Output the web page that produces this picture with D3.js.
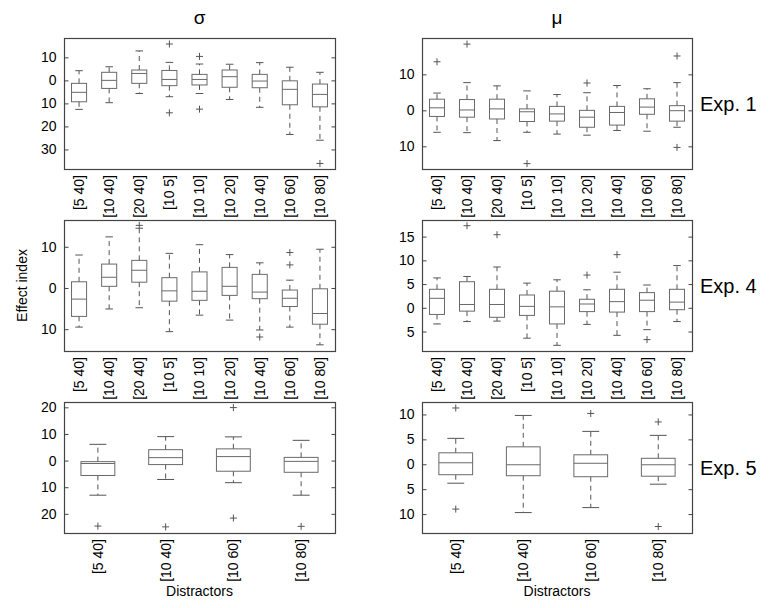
<!DOCTYPE html>
<html>
<head>
<meta charset="utf-8">
<script src="https://cdn.jsdelivr.net/npm/d3@7/dist/d3.min.js"></script>
<style>
  html, body { margin: 0; padding: 0; background: #fff; }
  svg { display: block; font-family: "Liberation Sans", Arial, Helvetica, sans-serif; }
</style>
</head>
<body>
<svg id="chart" width="773" height="608"></svg>
<script>
// ---------- DATA ----------
const categoriesFull = ["[5 40]", "[10 40]", "[20 40]", "[10 5]", "[10 10]", "[10 20]", "[10 40]", "[10 60]", "[10 80]"];
const categoriesShort = ["[5 40]", "[10 40]", "[10 60]", "[10 80]"];

const columnTitles = ["σ", "μ"];
const rowLabels = ["Exp. 1", "Exp. 4", "Exp. 5"];
const yAxisTitle = "Effect index";
const xAxisTitle = "Distractors";

// each box: [lowerWhisker, q1, median, q3, upperWhisker]
const sigmaExp1Boxes = [
  [-12.6, -9.3, -5.2, -1.3, 4.2],
  [-9.7, -3.5, 0.0, 3.5, 5.9],
  [-5.7, -1.3, 3.0, 4.5, 12.8],
  [-7.1, -2.3, 0.4, 4.3, 7.8],
  [-5.7, -2.0, 0.4, 2.6, 7.1],
  [-8.3, -3.0, 1.6, 4.5, 7.0],
  [-11.7, -3.2, -0.3, 2.6, 7.7],
  [-23.5, -10.6, -3.9, -0.2, 5.7],
  [-26.0, -11.5, -6.1, -1.6, 3.5]
];
const sigmaExp1Outliers = [[], [], [], [15.8, -14.1], [10.4, -12.5], [], [], [], [-36.1]];

const muExp1Boxes = [
  [-6.1, -1.7, 0.7, 3.1, 4.8],
  [-6.2, -1.9, 0.1, 3.0, 7.7],
  [-8.4, -2.4, 0.4, 3.1, 6.8],
  [-6.1, -3.1, -0.4, 0.4, 5.4],
  [-6.6, -3.0, -1.0, 1.1, 4.4],
  [-6.9, -4.7, -1.9, 0.0, 4.9],
  [-5.6, -4.1, -0.6, 1.1, 6.9],
  [-5.8, -1.1, 0.9, 3.2, 6.0],
  [-4.7, -3.0, -0.1, 1.3, 7.7]
];
const muExp1Outliers = [[13.5], [18.4], [], [-14.8], [], [7.6], [], [], [15.1, -10.3]];

const sigmaExp4Boxes = [
  [-9.5, -6.9, -2.7, 1.5, 8.0],
  [-5.1, 0.4, 2.6, 5.8, 12.4],
  [-4.8, 1.4, 4.3, 6.7, 14.5],
  [-10.6, -3.2, -0.7, 2.5, 8.4],
  [-6.6, -3.0, -0.8, 3.9, 10.5],
  [-7.8, -1.8, 0.4, 5.0, 8.1],
  [-10.2, -2.6, -1.0, 3.3, 6.1],
  [-9.5, -4.5, -2.5, -0.5, 1.9],
  [-13.8, -8.8, -6.2, -0.2, 9.4]
];
const sigmaExp4Outliers = [[], [], [15.2], [], [], [], [-11.9], [5.6, 8.6], []];

const muExp4Boxes = [
  [-3.4, -1.4, 2.0, 3.9, 6.3],
  [-2.9, -0.7, 0.7, 5.5, 6.6],
  [-2.8, -2.0, 0.7, 3.9, 8.6],
  [-6.4, -1.6, 0.3, 2.7, 5.2],
  [-7.9, -3.4, 0.2, 3.5, 5.9],
  [-3.5, -0.8, 0.8, 1.8, 3.8],
  [-5.8, -0.9, 1.3, 3.9, 7.5],
  [-4.6, -0.8, 1.6, 3.2, 4.8],
  [-2.9, -0.4, 1.2, 3.9, 8.9]
];
const muExp4Outliers = [[], [17.3], [15.4], [], [], [6.9], [11.2], [-6.7], []];

const sigmaExp5Boxes = [
  [-13.0, -5.6, -1.1, -0.4, 6.1],
  [-7.1, -1.5, 1.1, 4.1, 9.0],
  [-8.3, -4.0, 1.5, 4.4, 8.9],
  [-13.0, -4.4, -0.3, 1.2, 7.6]
];
const sigmaExp5Outliers = [[-24.6], [-24.9], [19.9, -21.6], [-24.7]];

const muExp5Boxes = [
  [-3.8, -2.1, 0.3, 2.3, 5.2],
  [-9.7, -2.3, -0.1, 3.5, 9.8],
  [-8.7, -2.5, 0.2, 1.9, 6.6],
  [-4.0, -2.4, -0.1, 1.2, 5.8]
];
const muExp5Outliers = [[11.3, -9.0], [], [10.2], [8.5, -12.5]];

// y axis domains and tick values / labels (labels shown without sign, as in the original)
const sigmaExp1Domain = [-38.5, 18.4];
const sigmaExp1Ticks = [10, 0, -10, -20, -30];
const sigmaExp1TickLabels = ["10", "0", "10", "20", "30"];

const muExp1Domain = [-16.3, 20.1];
const muExp1Ticks = [10, 0, -10];
const muExp1TickLabels = ["10", "0", "10"];

const sigmaExp4Domain = [-15.3, 16.5];
const sigmaExp4Ticks = [10, 0, -10];
const sigmaExp4TickLabels = ["10", "0", "10"];

const muExp4Domain = [-9.1, 18.5];
const muExp4Ticks = [15, 10, 5, 0, -5];
const muExp4TickLabels = ["15", "10", "5", "0", "5"];

const sigmaExp5Domain = [-27.2, 22.0];
const sigmaExp5Ticks = [20, 10, 0, -10, -20];
const sigmaExp5TickLabels = ["20", "10", "0", "10", "20"];

const muExp5Domain = [-13.8, 12.5];
const muExp5Ticks = [10, 5, 0, -5, -10];
const muExp5TickLabels = ["10", "5", "0", "5", "10"];

// ---------- LAYOUT ----------
const colX = [[64, 335], [422, 692]];
const rowY = [[38, 169], [220, 351], [402, 533]];

const panels = [
  { row: 0, col: 0, cats: categoriesFull, boxes: sigmaExp1Boxes, outliers: sigmaExp1Outliers, domain: sigmaExp1Domain, ticks: sigmaExp1Ticks, tickLabels: sigmaExp1TickLabels },
  { row: 0, col: 1, cats: categoriesFull, boxes: muExp1Boxes, outliers: muExp1Outliers, domain: muExp1Domain, ticks: muExp1Ticks, tickLabels: muExp1TickLabels },
  { row: 1, col: 0, cats: categoriesFull, boxes: sigmaExp4Boxes, outliers: sigmaExp4Outliers, domain: sigmaExp4Domain, ticks: sigmaExp4Ticks, tickLabels: sigmaExp4TickLabels },
  { row: 1, col: 1, cats: categoriesFull, boxes: muExp4Boxes, outliers: muExp4Outliers, domain: muExp4Domain, ticks: muExp4Ticks, tickLabels: muExp4TickLabels },
  { row: 2, col: 0, cats: categoriesShort, boxes: sigmaExp5Boxes, outliers: sigmaExp5Outliers, domain: sigmaExp5Domain, ticks: sigmaExp5Ticks, tickLabels: sigmaExp5TickLabels },
  { row: 2, col: 1, cats: categoriesShort, boxes: muExp5Boxes, outliers: muExp5Outliers, domain: muExp5Domain, ticks: muExp5Ticks, tickLabels: muExp5TickLabels }
];

const svg = d3.select("#chart");
const FONT = 14;
const boxColor = "#6a6a6a";
const whiskColor = "#555";
const frameColor = "#444";

panels.forEach(p => {
  const [x0, x1] = colX[p.col];
  const [y0, y1] = rowY[p.row];
  const x = d3.scaleBand().domain(d3.range(p.cats.length)).range([x0, x1]).paddingInner(0).paddingOuter(0);
  const y = d3.scaleLinear().domain(p.domain).range([y1, y0]);
  const g = svg.append("g");

  // frame
  g.append("rect").attr("x", x0 + 0.5).attr("y", y0 + 0.5)
    .attr("width", x1 - x0).attr("height", y1 - y0)
    .attr("fill", "none").attr("stroke", frameColor).attr("stroke-width", 1.2);

  // left axis (ticks inside)
  const left = d3.axisLeft(y).tickValues(p.ticks).tickSizeInner(-4).tickSizeOuter(0)
    .tickFormat((d, i) => p.tickLabels[i]).tickPadding(8);
  const la = g.append("g").attr("transform", `translate(${x0 + 0.5},0)`).call(left);
  la.select(".domain").remove();
  la.selectAll("line").attr("stroke", frameColor);
  la.selectAll("text").attr("font-size", FONT).attr("fill", "#000")
    .attr("font-family", "'Liberation Sans', Arial, sans-serif");

  // right axis ticks (inside, no labels)
  const right = d3.axisRight(y).tickValues(p.ticks).tickSizeInner(-4).tickSizeOuter(0).tickFormat("");
  const ra = g.append("g").attr("transform", `translate(${x1 + 0.5},0)`).call(right);
  ra.select(".domain").remove();
  ra.selectAll("line").attr("stroke", frameColor);

  const bw = x.bandwidth() * 0.5;
  const cw = bw * 0.5;

  p.boxes.forEach((b, i) => {
    const cx = x(i) + x.bandwidth() / 2;
    const [lo, q1, med, q3, hi] = b;
    const bg = g.append("g");
    // whiskers (dashed)
    bg.append("line").attr("x1", cx).attr("x2", cx).attr("y1", y(q3)).attr("y2", y(hi))
      .attr("stroke", whiskColor).attr("stroke-dasharray", "5,4");
    bg.append("line").attr("x1", cx).attr("x2", cx).attr("y1", y(q1)).attr("y2", y(lo))
      .attr("stroke", whiskColor).attr("stroke-dasharray", "5,4");
    // caps
    [lo, hi].forEach(v => {
      bg.append("line").attr("x1", cx - cw / 2).attr("x2", cx + cw / 2)
        .attr("y1", y(v)).attr("y2", y(v)).attr("stroke", whiskColor);
    });
    // box
    bg.append("rect").attr("x", cx - bw / 2).attr("y", y(q3))
      .attr("width", bw).attr("height", y(q1) - y(q3))
      .attr("fill", "none").attr("stroke", boxColor);
    // median
    bg.append("line").attr("x1", cx - bw / 2).attr("x2", cx + bw / 2)
      .attr("y1", y(med)).attr("y2", y(med)).attr("stroke", boxColor);
    // outliers
    p.outliers[i].forEach(v => {
      const py = y(v);
      bg.append("path").attr("d", `M${cx - 3.5},${py}H${cx + 3.5}M${cx},${py - 3.5}V${py + 3.5}`)
        .attr("stroke", whiskColor).attr("fill", "none");
    });
  });

  // category labels, rotated
  p.cats.forEach((c, i) => {
    const cx = x(i) + x.bandwidth() / 2;
    g.append("text")
      .attr("transform", `translate(${cx},${y1 + 6}) rotate(-90)`)
      .attr("text-anchor", "end").attr("dy", "0.35em")
      .attr("font-size", FONT).attr("fill", "#000")
      .text(c);
  });
});

// column titles
columnTitles.forEach((t, i) => {
  svg.append("text").attr("x", (colX[i][0] + colX[i][1]) / 2).attr("y", 24)
    .attr("text-anchor", "middle").attr("font-size", 19).attr("fill", "#000").text(t);
});

// row labels
rowLabels.forEach((t, i) => {
  svg.append("text").attr("x", 700).attr("y", (rowY[i][0] + rowY[i][1]) / 2)
    .attr("dy", "0.35em").attr("font-size", 20).attr("fill", "#000").text(t);
});

// y axis title
svg.append("text").attr("transform", `translate(27,${(rowY[1][0] + rowY[1][1]) / 2}) rotate(-90)`)
  .attr("text-anchor", "middle").attr("font-size", FONT).attr("fill", "#000").text(yAxisTitle);

// x axis titles
colX.forEach(cx => {
  svg.append("text").attr("x", (cx[0] + cx[1]) / 2).attr("y", 596)
    .attr("text-anchor", "middle").attr("font-size", FONT).attr("fill", "#000").text(xAxisTitle);
});
</script>
</body>
</html>
